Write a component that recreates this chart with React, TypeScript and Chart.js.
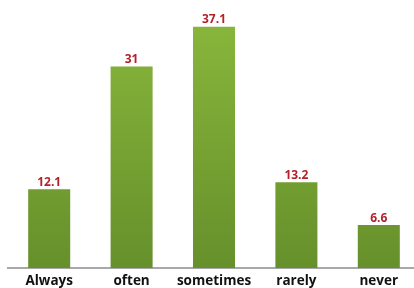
import React, { useEffect, useRef } from "react";
import { Chart, registerables } from "chart.js";

Chart.register(...registerables);

const categories = ["Always", "often", "sometimes", "rarely", "never"];
const values = [12.1, 31, 37.1, 13.2, 6.6];
const valueLabels = ["12.1", "31", "37.1", "13.2", "6.6"];

const labelPlugin = {
  id: "valueLabels",
  afterDatasetsDraw(chart: any) {
    const ctx = chart.ctx;
    const meta = chart.getDatasetMeta(0);
    ctx.save();
    ctx.font = "bold 12px 'Open Sans', sans-serif";
    ctx.fillStyle = "#b3222b";
    ctx.textAlign = "center";
    ctx.textBaseline = "bottom";
    meta.data.forEach((bar: any, i: number) => {
      ctx.fillText(valueLabels[i], bar.x, bar.y - 1);
    });
    ctx.restore();
  },
};

export default function App() {
  const ref = useRef<HTMLCanvasElement>(null);
  useEffect(() => {
    const canvas = ref.current!;
    const chart = new Chart(canvas, {
      type: "bar",
      data: {
        labels: categories,
        datasets: [
          {
            data: values,
            backgroundColor: (c: any) => {
              const area = c.chart.chartArea;
              if (!area) return "#7aa334";
              const g = c.chart.ctx.createLinearGradient(0, area.top, 0, area.bottom);
              g.addColorStop(0, "#8ab83c");
              g.addColorStop(1, "#66902b");
              return g;
            },
            categoryPercentage: 1,
            barPercentage: 0.51,
          },
        ],
      },
      options: {
        animation: false,
        responsive: false,
        maintainAspectRatio: false,
        layout: { padding: { top: 8, left: 8, right: 0, bottom: 0 } },
        plugins: { legend: { display: false }, tooltip: { enabled: false } },
        scales: {
          x: {
            grid: { display: false, drawTicks: false },
            border: { display: true, color: "#a8a8a8", width: 2 },
            ticks: {
              color: "#111",
              font: { family: "'Open Sans', sans-serif", size: 13.5, weight: "bold" },
              padding: 5,
              maxRotation: 0,
              autoSkip: false,
            },
            afterFit: (s: any) => {
              s.height = 20;
            },
          },
          y: {
            display: false,
            min: 0,
            max: 40,
          },
        },
      },
      plugins: [labelPlugin],
    });
    return () => chart.destroy();
  }, []);
  return (
    <div
      style={{
        position: "fixed",
        left: 0,
        top: 0,
        width: 414,
        height: 288,
        overflow: "hidden",
        background: "#fff",
      }}
    >
      <canvas ref={ref} width={420} height={288} style={{ display: "block", width: 420, height: 288 }} />
    </div>
  );
}
